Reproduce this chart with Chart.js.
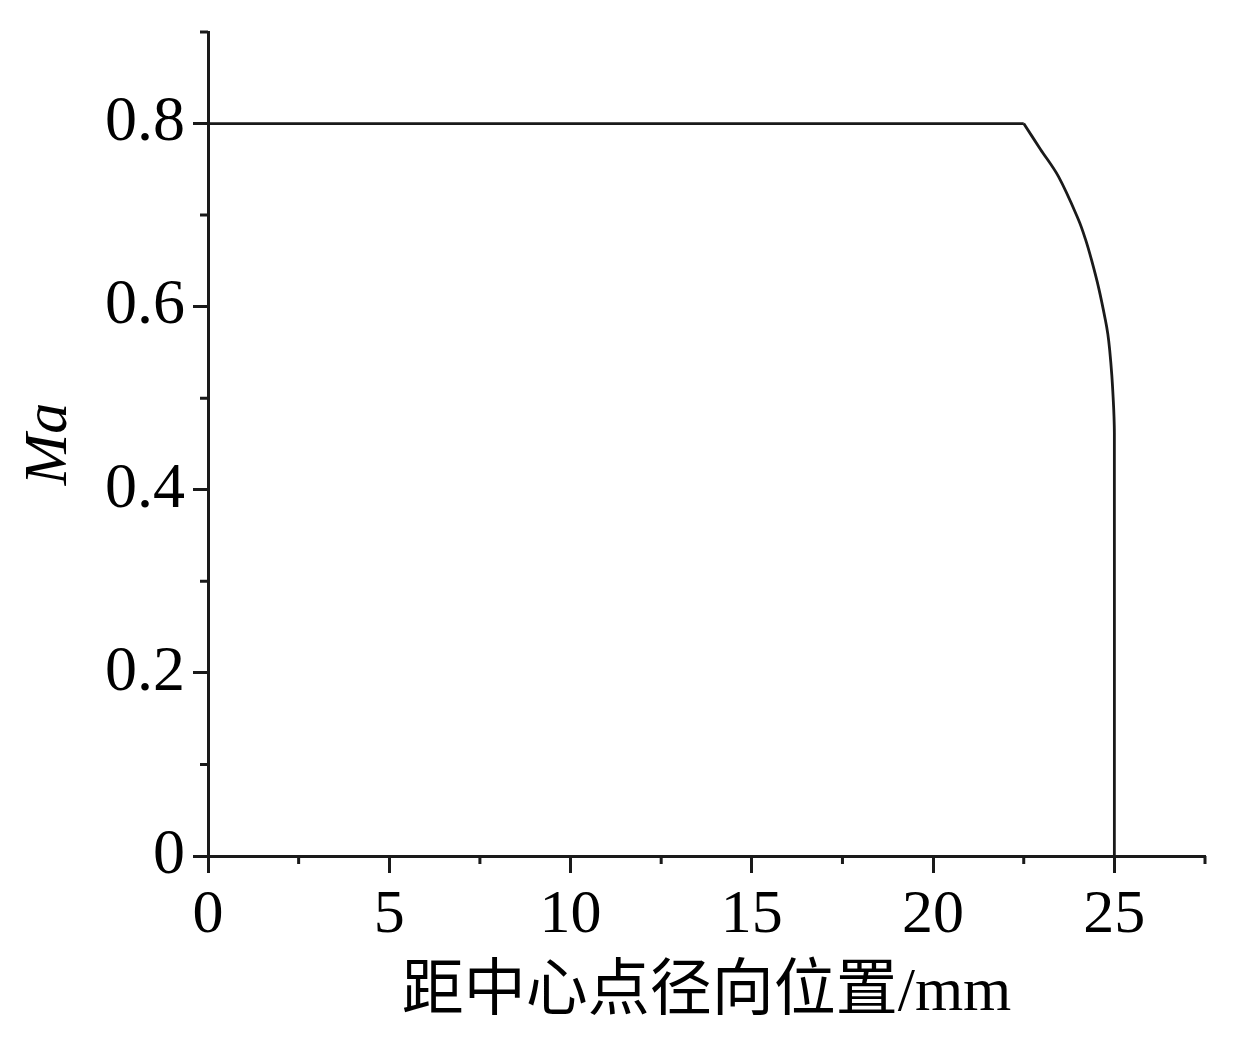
<!DOCTYPE html>
<html>
<head>
<meta charset="utf-8">
<script src="https://cdn.jsdelivr.net/npm/chart.js@4"></script>
<style>
  html, body { margin: 0; padding: 0; background: #fff; }
  #wrap { width: 1240px; height: 1039px; }
</style>
</head>
<body>
<div id="wrap"><canvas id="c"></canvas></div>
<script>
// radial position (mm) and Mach number
const radius = [0, 5, 10, 15, 20, 22.5, 22.96, 23.46, 24.01, 24.2, 24.37, 24.57, 24.75, 24.82, 24.87, 24.93, 24.97, 24.99, 25.0, 25.0]
const mach   = [0.8, 0.8, 0.8, 0.8, 0.8, 0.8, 0.772, 0.742, 0.695, 0.674, 0.651, 0.62, 0.586, 0.57, 0.553, 0.525, 0.498, 0.48, 0.462, 0]
const xMajor = [0, 5, 10, 15, 20, 25]
const yMajor = [0, 0.2, 0.4, 0.6, 0.8]

const serif = "'Liberation Serif', 'Noto Sans CJK SC', serif"
const ink = "#1a1a1a"

const points = radius.map((r, i) => ({ x: r, y: mach[i] }))
// flat core up to 22.5 mm, then the curved drop (smoothed) to the wall
const bend = radius.indexOf(22.5)
const flatPart = points.slice(0, bend + 1)
const dropPart = points.slice(bend)

const isMajor = (v, list) => list.some(m => Math.abs(m - v) < 1e-6)

// short ticks between the labelled ones
const minorTicks = {
  id: "minorTicks",
  afterDraw(chart) {
    const { ctx } = chart
    const xs = chart.scales.x, ys = chart.scales.y
    ctx.save()
    ctx.strokeStyle = ink
    ctx.lineWidth = 3
    ctx.beginPath()
    xs.ticks.forEach(t => {
      if (isMajor(t.value, xMajor)) return
      const px = xs.getPixelForValue(t.value)
      ctx.moveTo(px, xs.top)
      ctx.lineTo(px, xs.top + 8)
    })
    ys.ticks.forEach(t => {
      if (isMajor(t.value, yMajor)) return
      const py = ys.getPixelForValue(t.value)
      ctx.moveTo(ys.right, py)
      ctx.lineTo(ys.right - 8, py)
    })
    ctx.stroke()
    ctx.restore()
  }
}

const lineStyle = {
  showLine: true,
  borderColor: ink,
  borderWidth: 2.8,
  pointRadius: 0
}

new Chart(document.getElementById("c"), {
  type: "scatter",
  plugins: [minorTicks],
  data: {
    datasets: [
      { ...lineStyle, data: flatPart, tension: 0 },
      { ...lineStyle, data: dropPart, tension: 0.35 }
    ]
  },
  options: {
    responsive: true,
    maintainAspectRatio: false,
    animation: false,
    layout: { padding: { top: 32, right: 35, left: 0, bottom: 0 } },
    plugins: { legend: { display: false }, tooltip: { enabled: false } },
    scales: {
      x: {
        type: "linear",
        min: 0,
        max: 27.5,
        afterFit(s) { s.height = 183; s.paddingLeft = 0; s.paddingRight = 0 },
        border: { display: true, color: ink, width: 3 },
        grid: {
          drawOnChartArea: false,
          drawTicks: true,
          tickLength: 17,
          tickWidth: 3,
          tickColor: c => isMajor(c.tick.value, xMajor) ? ink : "transparent"
        },
        ticks: {
          stepSize: 2.5,
          autoSkip: false,
          maxRotation: 0,
          padding: 6,
          color: "#000",
          font: { family: serif, size: 62 },
          callback: v => isMajor(v, xMajor) ? String(v) : ""
        },
        title: {
          display: true,
          text: "距中心点径向位置/mm",
          color: "#000",
          font: { family: serif, size: 62 },
          padding: { top: 0, bottom: 8 }
        }
      },
      y: {
        type: "linear",
        min: 0,
        max: 0.9,
        afterFit(s) { s.width = 208; s.paddingTop = 0; s.paddingBottom = 0 },
        border: { display: true, color: ink, width: 3 },
        grid: {
          drawOnChartArea: false,
          drawTicks: true,
          tickLength: 15,
          tickWidth: 3,
          tickColor: c => isMajor(c.tick.value, yMajor) ? ink : "transparent"
        },
        ticks: {
          stepSize: 0.1,
          autoSkip: false,
          padding: 8,
          color: "#000",
          font: { family: serif, size: 64 },
          callback: v => isMajor(v, yMajor) ? (v === 0 ? "0" : v.toFixed(1)) : ""
        },
        title: {
          display: true,
          text: "Ma",
          color: "#000",
          font: { family: serif, size: 62, style: "italic" },
          padding: { top: 13, bottom: 0 }
        }
      }
    }
  }
})
</script>
</body>
</html>
